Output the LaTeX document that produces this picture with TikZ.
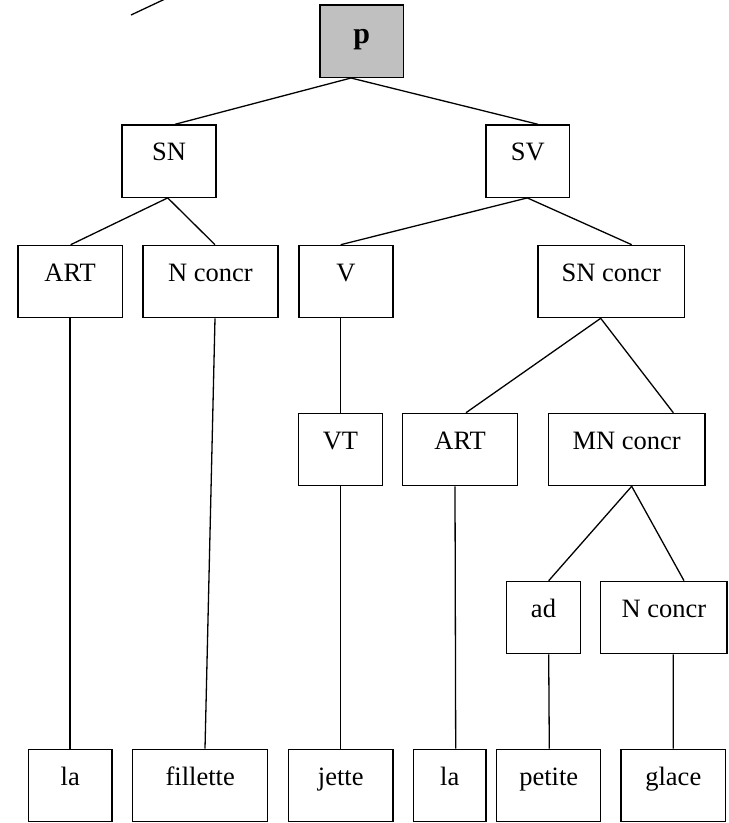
\documentclass[tikz,border=0pt]{standalone}
\usepackage{fontspec}
\setmainfont{Liberation Serif}
\begin{document}
\begin{tikzpicture}[x=1pt,y=-1pt,line width=1.3pt,
  box/.style={draw=black,line width=1.3pt,rectangle,anchor=north,inner xsep=0pt,inner ysep=0pt,
    text height=36pt,text depth=36.3pt,font=\fontsize{26.5}{30}\selectfont},
  conn/.style={draw=black,line width=1.3pt}]
\useasboundingbox (0,0) rectangle (729,823);
\clip (0,0) rectangle (729,823);
% stray line
\coordinate (s1) at (131,15);
\coordinate (s2) at (165,-1);
\draw[conn] (s1) -- (s2);
% nodes
\node[box,fill={rgb,255:red,192;green,192;blue,192},minimum width=83.3pt,text height=39pt,text depth=33.4pt,font=\fontsize{30}{34}\selectfont\bfseries] (p) at (361.7,4.3) {p};
\node[box,minimum width=94pt] (SN) at (169,124.3) {SN};
\node[box,minimum width=83.7pt] (SV) at (527.8,124.3) {SV};
\node[box,minimum width=104.3pt] (ART1) at (70.2,244.7) {ART};
\node[box,minimum width=135pt] (NC1) at (210.5,244.7) {N concr};
\node[box,minimum width=94pt] (V) at (346,244.7) {V};
\node[box,minimum width=146.7pt] (SNC) at (611.3,244.7) {SN concr};
\node[box,minimum width=84.4pt] (VT) at (340.5,412.7) {VT};
\node[box,minimum width=115pt] (ART2) at (460.2,412.7) {ART};
\node[box,minimum width=156.7pt] (MNC) at (626.7,412.7) {MN concr};
\node[box,minimum width=73.6pt] (ad) at (543.5,580.7) {ad};
\node[box,minimum width=126.3pt] (NC2) at (663.9,580.7) {N concr};
\node[box,minimum width=83.7pt] (la1) at (70.2,748.7) {la};
\node[box,minimum width=135pt] (fil) at (200.2,748.7) {fillette};
\node[box,minimum width=104.7pt] (jet) at (340.7,748.7) {jette};
\node[box,minimum width=72.7pt] (la2) at (449.7,748.7) {la};
\node[box,minimum width=104pt] (pet) at (548.7,748.7) {petite};
\node[box,minimum width=104.7pt] (gla) at (673.3,748.7) {glace};
% connectors
\draw[conn] ([xshift=-10.7pt]p.south) -- ([xshift=6pt]SN.north);
\draw[conn] ([xshift=-10.7pt]p.south) -- ([xshift=10.2pt]SV.north);
\draw[conn] ([xshift=-1.3pt]SN.south) -- ([xshift=0.5pt]ART1.north);
\draw[conn] ([xshift=-1.3pt]SN.south) -- ([xshift=4.5pt]NC1.north);
\draw[conn] ([xshift=-0.5pt]SV.south) -- ([xshift=-5.3pt]V.north);
\draw[conn] ([xshift=-0.5pt]SV.south) -- ([xshift=20.4pt]SNC.north);
\draw[conn] ([xshift=-0.2pt]ART1.south) -- ([xshift=-0.2pt]la1.north);
\draw[conn] ([xshift=4.5pt]NC1.south) -- ([xshift=4.8pt]fil.north);
\draw[conn] ([xshift=-5.3pt]V.south) -- ([xshift=0.2pt]VT.north);
\draw[conn] ([xshift=0.2pt]VT.south) -- (jet.north);
\draw[conn] ([xshift=-10.6pt]SNC.south) -- ([xshift=5.8pt]ART2.north);
\draw[conn] ([xshift=-10.6pt]SNC.south) -- ([xshift=46.6pt]MNC.north);
\draw[conn] ([xshift=-5.2pt]ART2.south) -- ([xshift=6pt]la2.north);
\draw[conn] ([xshift=5pt]MNC.south) -- ([xshift=5.2pt]ad.north);
\draw[conn] ([xshift=5pt]MNC.south) -- ([xshift=20.1pt]NC2.north);
\draw[conn] ([xshift=5.2pt]ad.south) -- ([xshift=0.6pt]pet.north);
\draw[conn] ([xshift=9.4pt]NC2.south) -- (gla.north);
\end{tikzpicture}
\end{document}
